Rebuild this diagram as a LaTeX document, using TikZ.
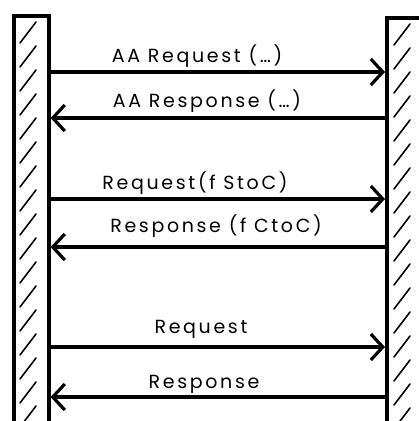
\documentclass[tikz,border=0pt]{standalone}
\usepackage{fontspec}
\setmainfont{Poppins}[LetterSpace=14]
\usetikzlibrary{arrows.meta}

\tikzset{
  bar/.style={draw, line width=3.6pt, minimum width=35pt, minimum height=420pt,
    anchor=north west, inner sep=0pt},
  msg/.style={line width=3.2pt, -{Straight Barb[length=12pt, width=26pt, line width=3.2pt]}},
  lbl/.style={font=\fontsize{19}{22}\selectfont, inner sep=0pt, anchor=base}
}

\begin{document}
\begin{tikzpicture}[x=1pt, y=-1pt]
  \useasboundingbox[fill=white] (0, 0) rectangle (419, 421);
  \clip (0, 0) rectangle (419, 421);

  \node[bar] (client) at (12, 14) {};
  \node[bar] (server) at (385, 16) {};

  % hatching inside both bars
  \foreach \y in {32, 56, ..., 420} {
    \draw[line width=1.6pt, line cap=round] (20, \y + 11) -- (36, \y - 10);
    \draw[line width=1.6pt, line cap=round] (394, \y + 13) -- (410, \y - 8);
  }

  \foreach \y/\dir/\t/\xt/\yt in {
      72/1/AA Request (\dots)/197/62,
      118/0/AA Response (\dots)/207/107,
      199/1/Request(f StoC)/195/189,
      247/0/Response (f CtoC)/216/232,
      347/1/Request/201/333,
      397/0/Response/204/388} {
    \node[lbl] (t\y) at (\xt, \yt) {\t};
    \coordinate (c\y) at (client.east |- 0, \y);
    \coordinate (s\y) at (server.west |- 0, \y);
    \ifnum\dir=1
      \draw[msg] (c\y) -- (s\y);
    \else
      \draw[msg] (s\y) -- (c\y);
    \fi
  }
\end{tikzpicture}
\end{document}
